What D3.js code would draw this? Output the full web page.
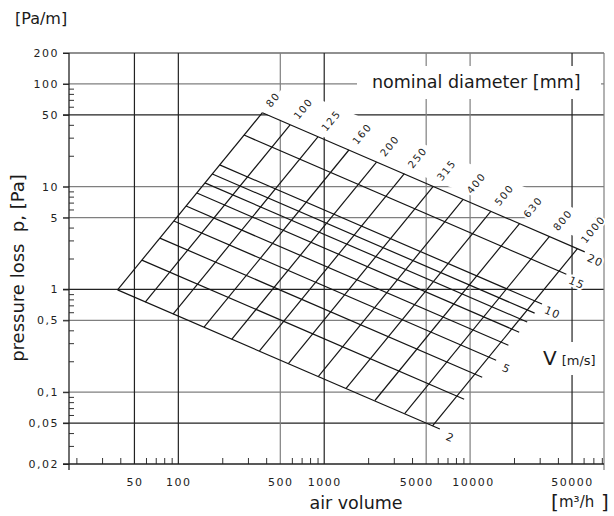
<!DOCTYPE html>
<html>
<head>
<meta charset="utf-8">
<script src="https://cdn.jsdelivr.net/npm/d3@7"></script>
<style>
    body { margin: 0; background: #fff; }
    svg { display: block; font-family: "DejaVu Sans", sans-serif; }
    .grid-dark { stroke: #222; stroke-width: 1.2; }
    .grid-light { stroke: #7f7f7f; stroke-width: 1.2; }
    .nomo { stroke: #151515; stroke-width: 1.2; fill: none; }
    .halo { paint-order: stroke; stroke: #fff; stroke-width: 4; stroke-linejoin: round; }
</style>
</head>
<body>
<svg id="chart" width="614" height="516" viewBox="0 0 614 516"></svg>
<script>
// ---- values ----
var velocities = [2, 3, 4, 5, 6, 7, 8, 9, 10, 15, 20];
var velocityLabels = [2, 5, 10, 15, 20];
// where each velocity line meets the 80 mm line
var flowAt80 = [38.3, 56.2, 74.7, 93.1, 113, 134, 152, 171, 192, 282, 377];
var lossAt80 = [0.99, 1.93, 3.16, 4.63, 6.48, 8.67, 10.9, 13.3, 16.3, 31.8, 52.5];

var diameters = [80, 100, 125, 160, 200, 250, 315, 400, 500, 630, 800, 1000];
// where each diameter line meets the 2 m/s line
var flowAt2 = [38.3, 59.3, 92, 150, 232, 360, 568, 910, 1413, 2225, 3560, 5527];
var lossAt2 = [0.99, 0.754, 0.576, 0.429, 0.327, 0.252, 0.19, 0.142, 0.109, 0.083, 0.062, 0.047];

var yTicks = [200, 100, 50, 10, 5, 1, 0.5, 0.1, 0.05, 0.02];
var yTickLabels = ["200", "100", "50", "10", "5", "1", "0,5", "0,1", "0,05", "0,02"];
var yGridDark = [200, 50, 1, 0.05];
var yGridLight = [100, 10, 5, 0.5, 0.1];
var yMinor = [90, 80, 70, 60, 40, 30, 20, 9, 8, 7, 6, 4, 3, 2, 0.9, 0.8, 0.7, 0.6, 0.4, 0.3, 0.2,
              0.09, 0.08, 0.07, 0.06, 0.04, 0.03];

var xTicks = [50, 100, 500, 1000, 5000, 10000, 50000];
var xTickLabels = ["50", "100", "500", "1000", "5000", "10000", "50000"];
var xGridDark = [50, 100, 1000, 50000];
var xGridLight = [500, 5000, 10000];
var xMinor = [20, 30, 40, 60, 70, 80, 90, 200, 300, 400, 600, 700, 800, 900, 2000, 3000, 4000,
              6000, 7000, 8000, 9000, 20000, 30000, 40000, 60000, 70000, 80000];

// ---- scales ----
var x = d3.scaleLog().domain([17.8, 82800]).range([69, 604]);
var y = d3.scaleLog().domain([0.02, 200]).range([464, 53]);

var chart = d3.select("#chart");

// pixel point where diameter i meets velocity j
function nomoPoint(i, j) {
    let q = flowAt80[j] * flowAt2[i] / flowAt2[0];
    let r = lossAt80[j] * lossAt2[i] / lossAt2[0];
    return [x(q), y(r)];
}

function unit(a, b) {
    let dx = b[0] - a[0], dy = b[1] - a[1];
    let l = Math.sqrt(dx * dx + dy * dy);
    return [dx / l, dy / l];
}

function drawGrid() {
    let g = chart.append("g");
    let left = x.range()[0], right = x.range()[1];
    let top = y.range()[1], bottom = y.range()[0];

    g.selectAll(".hy").data(yGridLight.concat(yGridDark)).join("line")
        .attr("class", d => yGridDark.includes(d) ? "grid-dark" : "grid-light")
        .attr("x1", left - 6).attr("x2", right)
        .attr("y1", d => y(d)).attr("y2", d => y(d));

    g.selectAll(".vx").data(xGridLight.concat(xGridDark)).join("line")
        .attr("class", d => xGridDark.includes(d) ? "grid-dark" : "grid-light")
        .attr("x1", d => x(d)).attr("x2", d => x(d))
        .attr("y1", top).attr("y2", bottom);

    // right border
    g.append("line").attr("class", "grid-light")
        .attr("x1", right).attr("x2", right).attr("y1", top).attr("y2", bottom + 6);
}

function drawAxes() {
    let left = x.range()[0], right = x.range()[1];
    let top = y.range()[1], bottom = y.range()[0];

    // minor ticks, pointing inwards
    let ym = chart.append("g").attr("transform", `translate(${left},0)`)
        .call(d3.axisLeft(y).tickValues(yMinor).tickSize(-5).tickFormat(""));
    ym.select(".domain").remove();
    ym.selectAll("line").attr("stroke", "#333");

    let xm = chart.append("g").attr("transform", `translate(0,${bottom})`)
        .call(d3.axisBottom(x).tickValues(xMinor).tickSize(-6).tickFormat(""));
    xm.select(".domain").remove();
    xm.selectAll("line").attr("stroke", "#333");

    // labelled ticks
    let yl = chart.append("g").attr("transform", `translate(${left},0)`)
        .call(d3.axisLeft(y).tickValues(yTicks).tickSize(6).tickPadding(4)
            .tickFormat((d, i) => yTickLabels[i]));
    yl.select(".domain").remove();
    yl.selectAll("line").attr("stroke", "#222");
    yl.selectAll("text").attr("font-family", "DejaVu Sans").attr("font-size", 11)
        .attr("letter-spacing", 1.5).attr("fill", "#222");

    let xl = chart.append("g").attr("transform", `translate(0,${bottom})`)
        .call(d3.axisBottom(x).tickValues(xTicks).tickSize(0).tickPadding(14)
            .tickFormat((d, i) => xTickLabels[i]));
    xl.select(".domain").remove();
    xl.selectAll("text").attr("font-family", "DejaVu Sans").attr("font-size", 11)
        .attr("letter-spacing", 1.5).attr("fill", "#222")
        .attr("dx", d => d === 5000 ? -10 : (d === 10000 ? 3 : 0)); // 5000 sits left of its line

    // axis lines
    chart.append("line").attr("stroke", "#222").attr("stroke-width", 1.3)
        .attr("x1", left).attr("x2", left).attr("y1", top).attr("y2", bottom + 6);
    chart.append("line").attr("stroke", "#222").attr("stroke-width", 1.3)
        .attr("x1", left - 6).attr("x2", right).attr("y1", bottom).attr("y2", bottom);
}

function drawNomogram() {
    let lastV = velocities.length - 1;
    let lastD = diameters.length - 1;

    // white band behind the diameter labels
    let topLeft = nomoPoint(0, lastV);
    let topRight = nomoPoint(lastD, lastV);
    let slope = (topRight[1] - topLeft[1]) / (topRight[0] - topLeft[0]);
    let along80 = unit(nomoPoint(0, 0), topLeft);
    let edgeY = px => topLeft[1] + (px - topLeft[0]) * slope;
    let bandRight = 598;
    chart.append("polygon")
        .attr("fill", "#fff")
        .attr("points", [
            topLeft,
            [bandRight, edgeY(bandRight) - 12],
            [bandRight, edgeY(bandRight) - 39],
            [topLeft[0] + along80[0] * 36, topLeft[1] + along80[1] * 36]
        ].map(p => p.join(",")).join(" "));

    let g = chart.append("g");

    // diameter lines (2 m/s .. 20 m/s)
    g.selectAll(".dia").data(diameters).join("line")
        .attr("class", "nomo")
        .attr("x1", (d, i) => nomoPoint(i, 0)[0])
        .attr("y1", (d, i) => nomoPoint(i, 0)[1])
        .attr("x2", (d, i) => nomoPoint(i, lastV)[0])
        .attr("y2", (d, i) => nomoPoint(i, lastV)[1]);

    // velocity lines, running a little past the 1000 mm line
    g.selectAll(".vel").data(velocities).join("line")
        .attr("class", "nomo")
        .attr("x1", (d, j) => nomoPoint(0, j)[0])
        .attr("y1", (d, j) => nomoPoint(0, j)[1])
        .attr("x2", (d, j) => {
            let e = nomoPoint(lastD, j), u = unit(nomoPoint(0, j), e);
            return e[0] + u[0] * 8;
        })
        .attr("y2", (d, j) => {
            let e = nomoPoint(lastD, j), u = unit(nomoPoint(0, j), e);
            return e[1] + u[1] * 8;
        });

    // diameter labels
    diameters.forEach(function (d, i) {
        let t = nomoPoint(i, lastV);
        let u = unit(nomoPoint(i, 0), t);
        let px = t[0] + u[0] * 9, py = t[1] + u[1] * 9;
        let ang = Math.atan2(u[1], u[0]) * 180 / Math.PI;
        chart.append("text")
            .attr("class", "halo")
            .attr("x", px).attr("y", py)
            .attr("transform", `rotate(${ang},${px},${py})`)
            .attr("dominant-baseline", "central")
            .attr("font-size", 10).attr("letter-spacing", 1.6)
            .attr("fill", "#222")
            .text(d);
    });

    // velocity labels
    velocityLabels.forEach(function (v) {
        let j = velocities.indexOf(v);
        let e = nomoPoint(lastD, j);
        let u = unit(nomoPoint(0, j), e);
        let px = e[0] + u[0] * 21 - u[1] * 4, py = e[1] + u[1] * 21 + u[0] * 4;
        let ang = Math.atan2(u[1], u[0]) * 180 / Math.PI;
        chart.append("text")
            .attr("class", "halo")
            .attr("x", px).attr("y", py)
            .attr("transform", `rotate(${ang},${px},${py})`)
            .attr("text-anchor", "middle")
            .attr("dominant-baseline", "central")
            .attr("font-size", 11).attr("letter-spacing", 1.2)
            .attr("fill", "#222")
            .text(v);
    });
}

function drawTitles() {
    // "nominal diameter [mm]" box
    chart.append("rect").attr("x", 357).attr("y", 66).attr("width", 244).attr("height", 33)
        .attr("fill", "#fff");
    chart.append("text").attr("x", 372).attr("y", 88)
        .attr("font-size", 17.5).attr("fill", "#1a1a1a")
        .text("nominal diameter [mm]");

    // V [m/s]
    chart.append("rect").attr("x", 538).attr("y", 342).attr("width", 63).attr("height", 33)
        .attr("fill", "#fff");
    let vt = chart.append("text").attr("x", 543).attr("y", 365).attr("fill", "#1a1a1a");
    vt.append("tspan").attr("font-size", 20).text("V");
    vt.append("tspan").attr("font-size", 13).attr("dx", 5).text("[m/s]");

    // units top-left
    chart.append("text").attr("x", 15).attr("y", 24)
        .attr("font-size", 16).attr("fill", "#1a1a1a").text("[Pa/m]");

    // y title
    chart.append("text")
        .attr("transform", "translate(24,268) rotate(-90)")
        .attr("text-anchor", "middle")
        .attr("font-size", 18).attr("fill", "#1a1a1a")
        .style("white-space", "pre")
        .text("pressure loss  p, [Pa]");

    // x title
    chart.append("text").attr("x", 356).attr("y", 509)
        .attr("text-anchor", "middle")
        .attr("font-size", 17.5).attr("fill", "#1a1a1a")
        .text("air volume");

    chart.append("text").attr("x", 551).attr("y", 509)
        .attr("font-size", 20).attr("fill", "#1a1a1a").text("[");
    chart.append("text").attr("x", 559).attr("y", 507)
        .attr("font-size", 15).attr("fill", "#1a1a1a").text("m³/h");
    chart.append("text").attr("x", 601).attr("y", 509)
        .attr("font-size", 20).attr("fill", "#1a1a1a").text("]");
}

drawGrid();
drawAxes();
drawNomogram();
drawTitles();
</script>
</body>
</html>
